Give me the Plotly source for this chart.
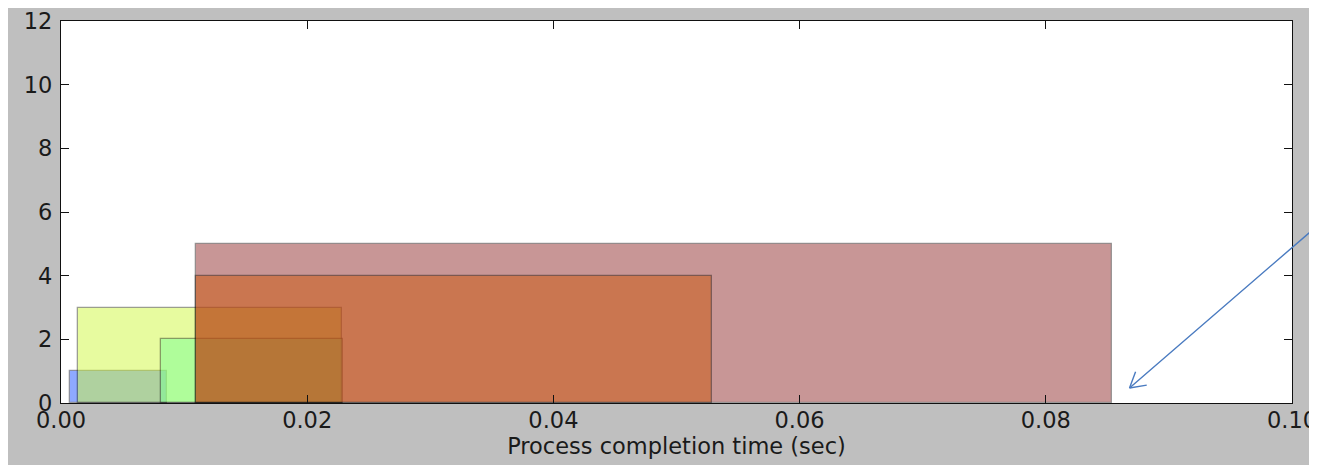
import math
import plotly.graph_objects as go

# Data
starts = [0.0007, 0.0014, 0.0081, 0.0110, 0.0110]
ends = [0.0086, 0.0228, 0.0229, 0.0854, 0.0529]
heights = [1, 3, 2, 5, 4]
colors = ["rgb(31,85,255)", "rgb(209,249,65)", "rgb(120,255,150)",
          "rgb(147,47,47)", "rgb(204,88,12)"]
x_ticks = [0.0, 0.02, 0.04, 0.06, 0.08, 0.10]
y_ticks = [0, 2, 4, 6, 8, 10, 12]
arrow_point = (0.0868, 0.47)
x_title = "Process completion time (sec)"

fig = go.Figure()
for s, e, h, c in zip(starts, ends, heights, colors):
    fig.add_trace(go.Bar(
        x=[s], y=[h], base=0, offset=0, width=[e - s],
        marker=dict(color=c, line=dict(color="rgba(0,0,0,0.75)", width=1.3)),
        opacity=0.5, showlegend=False, hoverinfo="skip",
    ))

font = dict(family="DejaVu Sans", size=22.5, color="#1a1a1a")
axis_common = dict(
    showgrid=False, zeroline=False, showline=True, linecolor="#111",
    linewidth=1.3, mirror="ticks", ticks="inside", ticklen=8,
    tickcolor="#111", tickwidth=1, tickfont=font, ticklabeloverflow="allow",
)

# arrow: shaft + open V head (styling)
shaft_dx, shaft_dy = 196, -162
ang = math.atan2(shaft_dy, shaft_dx)
head_len, head_ang = 19, math.radians(30)
arrow_style = dict(xref="x", yref="y", text="", showarrow=True, arrowhead=0,
                   arrowwidth=1.4, arrowcolor="#4a7bc0", standoff=0)
annotations = [dict(x=arrow_point[0], y=arrow_point[1],
                    ax=shaft_dx, ay=shaft_dy, **arrow_style)]
for sgn in (-1, 1):
    a = ang + sgn * head_ang
    annotations.append(dict(x=arrow_point[0], y=arrow_point[1],
                            ax=head_len * math.cos(a), ay=head_len * math.sin(a),
                            **arrow_style))

fig.update_layout(
    width=1309, height=457,
    margin=dict(l=53, r=25, t=13, b=62, autoexpand=False),
    paper_bgcolor="#bfbfbf", plot_bgcolor="white",
    barmode="overlay", bargap=0,
    font=font,
    xaxis=dict(range=[0, 0.1], tickvals=x_ticks,
               ticktext=[f"{v:.2f}" for v in x_ticks],
               ticklabelstandoff=-3,
               title=dict(text=x_title, font=font, standoff=2), **axis_common),
    yaxis=dict(range=[0, 12], tickvals=y_ticks,
               ticklabelstandoff=3,
               ticktext=[str(v) for v in y_ticks], **axis_common),
    annotations=annotations,
)
fig.write_html("out.html")
